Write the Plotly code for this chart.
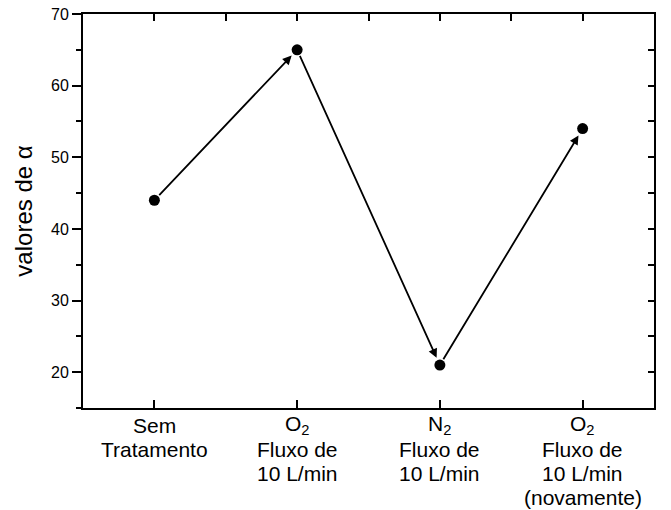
import plotly.graph_objects as go

categories = [["Sem", "Tratamento"],
              ["O<sub>2</sub>", "Fluxo de", "10 L/min"],
              ["N<sub>2</sub>", "Fluxo de", "10 L/min"],
              ["O<sub>2</sub>", "Fluxo de", "10 L/min", "(novamente)"]]
x_pos = [0, 1, 2, 3]
alpha_values = [44, 65, 21, 54]
y_ticks = [20, 30, 40, 50, 60, 70]

FONT = "Liberation Sans, Arial, Helvetica, sans-serif"

fig = go.Figure()
fig.add_trace(go.Scatter(x=x_pos, y=alpha_values, mode="markers",
                         marker=dict(color="black", size=11),
                         showlegend=False, hoverinfo="skip"))
fig.add_trace(go.Scatter(x=[x_pos[0]], y=[alpha_values[0]], xaxis="x2", yaxis="y2",
                         mode="markers", marker=dict(opacity=0), showlegend=False,
                         hoverinfo="skip"))

for i in range(len(x_pos) - 1):
    fig.add_annotation(x=x_pos[i + 1], y=alpha_values[i + 1],
                       ax=x_pos[i], ay=alpha_values[i],
                       xref="x", yref="y", axref="x", ayref="y",
                       text="", showarrow=True,
                       arrowhead=2, arrowsize=1.0, arrowwidth=1.8,
                       arrowcolor="black", standoff=8, startstandoff=5)

LINE_GAP = 24
FIRST = 17
for xi, lines in zip(x_pos, categories):
    for k, line in enumerate(lines):
        fig.add_annotation(x=xi, y=0, xref="x", yref="paper",
                           text=line, showarrow=False,
                           xanchor="center", yanchor="middle",
                           yshift=-(FIRST + k * LINE_GAP),
                           font=dict(size=21, family=FONT, color="black"))

fig.update_layout(
    width=671, height=510,
    margin=dict(l=83, r=17, t=14, b=102),
    paper_bgcolor="white", plot_bgcolor="white",
    font=dict(family=FONT, color="black"),
    xaxis=dict(range=[-0.5, 3.5], tickvals=x_pos, showticklabels=False,
               ticks="inside", ticklen=8, tickwidth=2, tickcolor="black",
               showline=True, linewidth=2, linecolor="black",
               showgrid=False, zeroline=False, automargin=False, fixedrange=True),
    xaxis2=dict(range=[-0.5, 3.5], overlaying="x", side="top",
                tickvals=[0, 0.5, 1, 1.5, 2, 2.5, 3], showticklabels=False,
                ticks="inside", ticklen=7, tickwidth=2, tickcolor="black",
                showline=True, linewidth=2, linecolor="black",
                showgrid=False, zeroline=False, automargin=False),
    yaxis=dict(range=[15, 70], tickvals=y_ticks,
               ticks="outside", ticklen=9, tickwidth=2, tickcolor="black",
               minor=dict(dtick=5, tick0=0, ticks="outside", ticklen=5,
                          tickwidth=2, tickcolor="black"),
               showline=True, linewidth=2, linecolor="black",
               showgrid=False, zeroline=False, automargin=False,
               tickfont=dict(size=16, family=FONT),
               title=dict(text="valores de α", font=dict(size=24, family=FONT),
                          standoff=12)),
    yaxis2=dict(range=[15, 70], overlaying="y", side="right",
                tickvals=[20, 25, 30, 35, 40, 45, 50, 55, 60, 65, 70],
                showticklabels=False,
                ticks="inside", ticklen=6, tickwidth=2, tickcolor="black",
                showline=True, linewidth=2, linecolor="black",
                showgrid=False, zeroline=False, automargin=False),
)

fig.write_html("out.html")
